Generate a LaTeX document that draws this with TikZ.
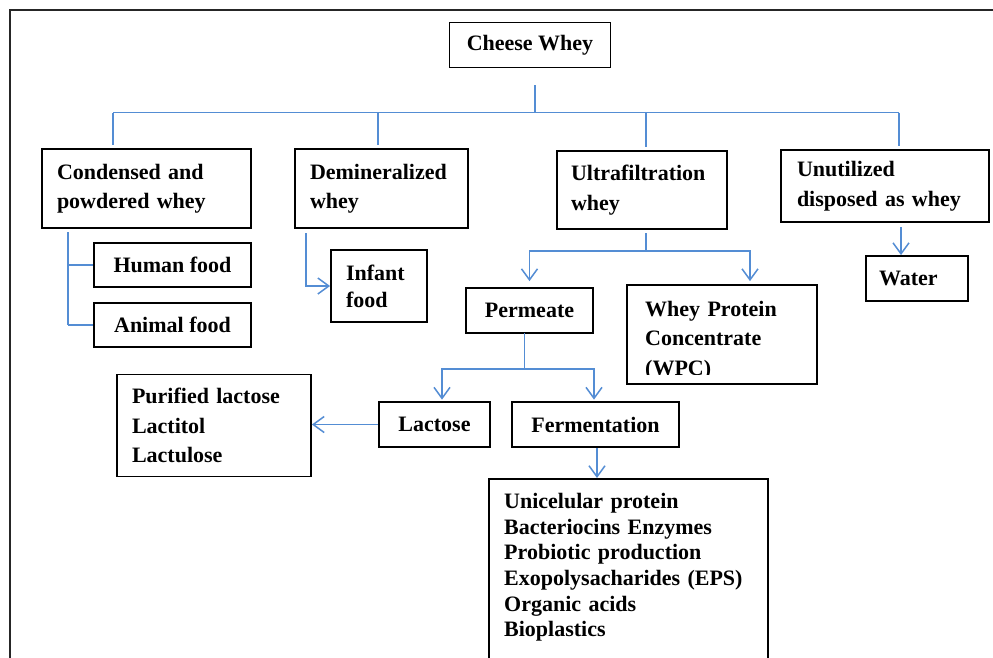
\documentclass[tikz,border=0pt]{standalone}
\usepackage{fontspec}
\setmainfont{Liberation Serif}
\usetikzlibrary{arrows.meta}
\definecolor{conncol}{RGB}{84,141,212}
\newcommand{\boxfont}[1]{\bfseries\fontsize{22}{#1}\selectfont}
\begin{document}
\begin{tikzpicture}[x=1pt,y=-1pt,
  box/.style={draw=black, line width=1.8pt, inner ysep=0pt, font=\boxfont{29.5}},
  lbox/.style={box, align=left},
  txt/.style={inner sep=0pt, align=left, font=\boxfont{29.5}},
  conn/.style={draw=conncol, line width=1.5pt},
  arr/.style={conn, -{Straight Barb[length=11pt,width=16pt]}},
  frameline/.style={draw=black!85, line width=2pt, line join=miter}]
\useasboundingbox (0,0) rectangle (993,657);
\clip (0,0) rectangle (993,657);
\fill[white] (0,0) rectangle (993,657);
\draw[frameline] (10,700) -- (10,10) -- (1010,10);

% boxes
\node[box, minimum width=161, minimum height=45] (cw) at (530,45) {Cheese Whey};
\node[lbox, minimum width=209, minimum height=79, text width=179, inner xsep=15] (cpw) at (146.5,188.5) {Condensed and\\powdered whey};
\node[lbox, minimum width=173, minimum height=79, text width=143, inner xsep=15] (dmw) at (381.5,188.5) {Demineralized\\whey};
\node[lbox, minimum width=170, minimum height=78, text width=142, inner xsep=14] (ufw) at (642,190) {Ultrafiltration\\whey};
\node[lbox, minimum width=208, minimum height=72, text width=176, inner xsep=16] (unw) at (885,186) {Unutilized\\disposed as whey};
\node[box, minimum width=157, minimum height=44] (hf) at (172.5,265) {Human food};
\node[box, minimum width=157, minimum height=44] (af) at (172.5,325) {Animal food};
\node[lbox, minimum width=96, minimum height=72, text width=66, inner xsep=15, font=\boxfont{27}] (inf) at (379,286) {Infant\\food};
\node[box, minimum width=127, minimum height=45] (per) at (529.5,310.5) {Permeate};
\node[box, minimum width=190, minimum height=99] (wpc) at (722,334.5) {};
\begin{scope}
  \clip (wpc.north west) rectangle ([yshift=10pt]wpc.south east);
  \node[txt, anchor=west, text width=165] (wpct) at (645,340.5) {Whey Protein\\Concentrate\\(WPC)};
\end{scope}
\node[lbox, minimum width=102, minimum height=45, text width=76, inner xsep=13] (wat) at (917,278.5) {Water};
\node[box, minimum width=111, minimum height=45] (lac) at (434.5,424.5) {Lactose};
\node[box, minimum width=167, minimum height=45] (fer) at (595.5,424.5) {Fermentation};
\node[lbox, minimum width=194, minimum height=102, text width=164, inner xsep=15] (pur) at (214,425.5) {Purified lactose\\Lactitol\\Lactulose};
\node[box, minimum width=279, minimum height=260, anchor=north west] (big) at (488,478) {};
\node[txt, anchor=north west, text width=250, font=\boxfont{25.7}] (bigt) at (504,493) {Unicelular protein\\Bacteriocins Enzymes\\Probiotic production\\Exopolysacharides (EPS)\\Organic acids\\Bioplastics};

% top bus
\coordinate (hub) at (535,85);
\coordinate (bl) at (113,112.5);
\coordinate (bm1) at (378,112.5);
\coordinate (bm2) at (646,112.5);
\coordinate (br) at (899,112.5);
\draw[conn] (hub) -- (hub |- bl);
\draw[conn] (bl) -- (br);
\foreach \c/\n in {bl/cpw, bm1/dmw, bm2/ufw, br/unw}
  \draw[conn, shorten >=3pt] (\c) -- (\c |- \n.north);

% condensed children
\coordinate (c0) at (68,232);
\draw[conn, line width=2.4pt] (c0) -- (c0 |- af.west);
\draw[conn] (c0 |- hf.west) -- (hf.west);
\draw[conn] (c0 |- af.west) -- (af.west);

% demineralized
\coordinate (d0) at (306,233);
\draw[arr] (d0) |- (inf.west);

% ultrafiltration
\coordinate (u0) at (646,233);
\coordinate (ub) at (646,251);
\draw[conn] (u0) -- (ub);
\draw[arr, shorten >=6pt] (ub) -| (per.north);
\draw[arr, shorten >=3pt] (ub) -| (wpc.north -| 750,0);

% unutilized
\coordinate (w0) at (901,227);
\draw[arr] (w0) -- (w0 |- wat.north);

% permeate
\coordinate (p0) at (524.5,333);
\coordinate (pb) at (524.5,369);
\draw[conn] (p0) -- (pb);
\draw[arr, shorten >=1.5pt] (pb) -| (lac.north -| 442,0);
\draw[arr, shorten >=1.5pt] (pb) -| (fer.north -| 594,0);

% lactose, fermentation
\draw[arr] (lac.west) -- (lac.west -| pur.east);
\draw[arr] (fer.south -| 597,0) -- (big.north -| 597,0);
\end{tikzpicture}
\end{document}
